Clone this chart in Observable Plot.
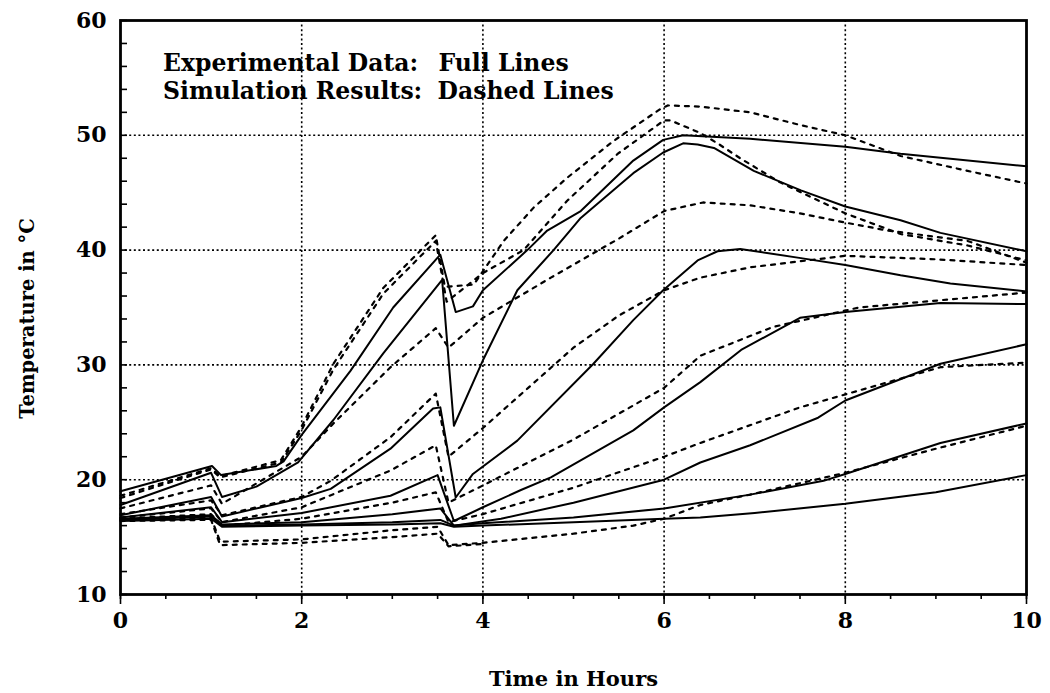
<!DOCTYPE html>
<html>
<head>
<meta charset="utf-8">
<script src="https://cdn.jsdelivr.net/npm/d3@7"></script>
<script src="https://cdn.jsdelivr.net/npm/@observablehq/plot@0.6"></script>
<style>
  html, body { margin: 0; padding: 0; background: #fff; }
</style>
</head>
<body>
<div id="chart"></div>
<script>
// Axis ticks
const timeTicks = [0, 2, 4, 6, 8, 10];
const timeMinor = d3.range(0, 10.01, 0.5);
const timeGrid = [2, 4, 6, 8];
const tempTicks = [10, 20, 30, 40, 50, 60];
const tempMinor = d3.range(10, 60.01, 2);
const tempGrid = [20, 30, 40, 50];

// Measured temperatures (full lines): hours / degrees C
const expA_t = [0, 1.01, 1.11, 1.72, 1.80, 2.0, 2.54, 3.01, 3.53, 3.70, 3.89, 4.0, 4.49, 4.71, 5.08, 5.66, 5.99, 6.21, 6.95, 8.0, 8.61, 10];
const expA_T = [19.0, 21.2, 20.4, 21.2, 21.6, 23.9, 29.5, 35.0, 39.6, 34.6, 35.1, 36.5, 40.0, 41.7, 43.4, 47.8, 49.6, 50.0, 49.7, 49.0, 48.4, 47.3];

const expB_t = [0, 1.0, 1.12, 1.5, 1.96, 2.35, 2.90, 3.55, 3.68, 4.0, 4.38, 4.78, 5.08, 5.66, 5.99, 6.21, 6.37, 6.55, 6.99, 7.51, 8.0, 8.61, 9.05, 10];
const expB_T = [17.8, 20.6, 18.5, 19.4, 21.5, 25.2, 31.0, 37.4, 24.7, 30.4, 36.5, 40.0, 42.8, 46.7, 48.5, 49.3, 49.2, 48.9, 46.9, 45.2, 43.8, 42.6, 41.5, 39.9];

const expC_t = [0, 1.0, 1.12, 2.0, 2.32, 2.98, 3.45, 3.53, 3.70, 3.89, 4.38, 5.22, 5.66, 5.99, 6.37, 6.59, 6.84, 7.51, 8.0, 8.61, 9.16, 10];
const expC_T = [16.9, 18.5, 16.8, 18.4, 19.2, 22.7, 26.2, 26.3, 18.45, 20.5, 23.4, 30.1, 33.9, 36.5, 39.1, 39.9, 40.1, 39.3, 38.7, 37.8, 37.1, 36.4];

const expD_t = [0, 1.0, 1.12, 2.0, 2.98, 3.50, 3.68, 4.0, 4.42, 4.75, 5.66, 6.0, 6.4, 6.85, 7.5, 8.0, 9.05, 10];
const expD_T = [16.7, 17.6, 16.3, 17.1, 18.6, 20.4, 16.4, 17.6, 19.1, 20.2, 24.3, 26.3, 28.5, 31.3, 34.1, 34.6, 35.4, 35.3];

const expE_t = [0, 1.0, 1.12, 2.0, 3.0, 3.53, 3.68, 4.2, 5.0, 6.0, 6.4, 6.95, 7.7, 8.0, 9.05, 10];
const expE_T = [16.6, 16.9, 16.1, 16.3, 17.0, 17.5, 16.0, 16.6, 18.0, 20.0, 21.5, 23.0, 25.4, 26.9, 30.1, 31.8];

const expF_t = [0, 1.0, 1.12, 2.0, 3.0, 3.53, 3.68, 4.0, 5.0, 6.0, 6.95, 7.76, 8.0, 9.05, 10];
const expF_T = [16.5, 16.8, 16.0, 16.1, 16.3, 16.5, 16.0, 16.2, 16.7, 17.5, 18.7, 19.9, 20.5, 23.2, 24.9];

const expG_t = [0, 1.0, 1.12, 2.0, 3.0, 3.53, 3.68, 4.0, 5.0, 6.0, 6.4, 7.0, 8.0, 9.0, 10];
const expG_T = [16.4, 16.6, 15.9, 16.0, 16.1, 16.2, 15.9, 16.0, 16.3, 16.6, 16.7, 17.1, 17.9, 18.9, 20.4];

// Simulated temperatures (dashed lines): hours / degrees C
const simA_t = [0, 1.0, 1.1, 1.77, 1.99, 2.35, 2.90, 3.48, 3.58, 3.9, 4.23, 4.56, 4.93, 5.44, 5.96, 6.04, 6.4, 6.95, 7.5, 8.0, 8.61, 9.35, 10];
const simA_T = [18.6, 21.0, 20.3, 21.7, 24.5, 30.1, 36.7, 41.3, 36.8, 37.0, 40.8, 43.7, 46.3, 49.5, 52.3, 52.6, 52.5, 52.0, 50.9, 50.0, 48.2, 46.9, 45.8];

const simB_t = [0, 1.0, 1.1, 1.77, 1.99, 2.35, 2.90, 3.48, 3.60, 4.0, 4.45, 4.93, 5.49, 6.0, 6.07, 6.4, 6.59, 6.84, 7.28, 8.0, 8.61, 9.35, 10];
const simB_T = [18.4, 20.9, 20.2, 21.5, 24.2, 29.6, 36.2, 40.8, 35.5, 38.0, 40.0, 44.3, 48.4, 51.3, 51.3, 50.2, 49.3, 48.0, 45.9, 43.2, 41.4, 40.4, 39.1];

const simC_t = [0, 1.0, 1.12, 2.0, 2.35, 2.98, 3.48, 3.62, 4.0, 4.75, 5.5, 6.0, 6.43, 6.95, 7.5, 8.0, 8.47, 9.35, 10];
const simC_T = [17.5, 19.5, 17.9, 22.0, 24.9, 29.8, 33.2, 31.5, 34.1, 37.6, 41.0, 43.4, 44.15, 43.9, 43.2, 42.4, 41.7, 40.8, 38.9];

const simD_t = [0, 1.0, 1.12, 2.0, 2.32, 2.98, 3.48, 3.62, 4.0, 4.5, 5.0, 5.5, 6.0, 6.4, 6.95, 8.0, 9.0, 10];
const simD_T = [17.0, 18.2, 16.9, 18.5, 19.9, 23.7, 27.5, 22.0, 24.5, 28.0, 31.5, 34.3, 36.5, 37.6, 38.5, 39.5, 39.2, 38.7];

const simE_t = [0, 1.0, 1.12, 2.0, 2.98, 3.48, 3.62, 4.0, 5.0, 6.0, 6.4, 7.2, 8.15, 10];
const simE_T = [16.7, 17.5, 16.3, 17.6, 20.8, 23.0, 18.0, 19.5, 23.5, 28.0, 30.8, 33.3, 35.0, 36.3];

const simF_t = [0, 1.0, 1.12, 2.0, 3.0, 3.48, 3.62, 4.0, 5.0, 6.0, 6.4, 7.5, 9.05, 10];
const simF_T = [16.6, 17.0, 16.0, 16.6, 18.0, 18.9, 16.3, 17.0, 19.3, 22.0, 23.2, 26.3, 29.8, 30.2];

const simG_t = [0, 1.0, 1.1, 2.0, 3.0, 3.5, 3.62, 4.0, 5.0, 5.66, 6.0, 6.4, 6.95, 8.0, 9.0, 10];
const simG_T = [16.5, 16.7, 14.6, 14.8, 15.6, 15.9, 14.3, 14.5, 15.3, 16.0, 16.6, 17.8, 18.7, 20.6, 22.7, 24.7];

const simH_t = [0, 1.0, 1.1, 2.0, 3.0, 3.5, 3.62, 4.0];
const simH_T = [16.4, 16.5, 14.3, 14.5, 15.0, 15.3, 14.2, 14.4];

const notes = ["Experimental Data:", "Full Lines", "Simulation Results:", "Dashed Lines"];
const noteX = [0.47, 3.51, 0.47, 3.50];
const noteY = [55.6, 55.6, 53.15, 53.15];

const xTitle = "Time in Hours";
const yTitle = "Temperature in °C";

// Flatten the series into long rows for the line marks
function rows(id, ts, Ts) {
  return ts.map((t, i) => ({id, t, T: Ts[i]}));
}
const measured = [
  rows("A", expA_t, expA_T), rows("B", expB_t, expB_T), rows("C", expC_t, expC_T),
  rows("D", expD_t, expD_T), rows("E", expE_t, expE_T), rows("F", expF_t, expF_T),
  rows("G", expG_t, expG_T)
].flat();
const simulated = [
  rows("A", simA_t, simA_T), rows("B", simB_t, simB_T), rows("C", simC_t, simC_T),
  rows("D", simD_t, simD_T), rows("E", simE_t, simE_T), rows("F", simF_t, simF_T),
  rows("G", simG_t, simG_T), rows("H", simH_t, simH_T)
].flat();

const font = "'DejaVu Serif', 'Liberation Serif', serif";

const chart = Plot.plot({
  width: 1050,
  height: 693,
  marginLeft: 120,
  marginRight: 24,
  marginTop: 20,
  marginBottom: 99,
  x: {domain: [0, 10]},
  y: {domain: [10, 60]},
  style: {fontFamily: font, fontWeight: "bold", fontSize: "21px", color: "#000", background: "#fff", overflow: "visible"},
  marks: [
    Plot.gridX(timeGrid, {stroke: "#000", strokeOpacity: 1, strokeWidth: 1.6, strokeDasharray: "2,2.6"}),
    Plot.gridY(tempGrid, {stroke: "#000", strokeOpacity: 1, strokeWidth: 1.6, strokeDasharray: "2,2.6"}),
    Plot.line(simulated, {x: "t", y: "T", z: "id", stroke: "#000", strokeWidth: 2.2, strokeDasharray: "4,6"}),
    Plot.line(measured, {x: "t", y: "T", z: "id", stroke: "#000", strokeWidth: 2}),
    Plot.axisX(timeMinor, {tickSize: 5, text: null, label: null, strokeWidth: 1.6}),
    Plot.axisX(timeTicks, {tickSize: 10, tickPadding: 8, label: null, strokeWidth: 1.6, fontSize: 22}),
    Plot.axisY(tempMinor, {tickSize: 7, dx: 7, text: null, label: null, strokeWidth: 1.6}),
    Plot.axisY(tempTicks, {tickSize: 0, tickPadding: 14, label: null, fontSize: 22}),
    Plot.frame({stroke: "#000", strokeWidth: 2.8}),
    Plot.text(notes, {x: (d, i) => noteX[i], y: (d, i) => noteY[i], text: d => d, textAnchor: "start", fontSize: 23.5, lineAnchor: "bottom"}),
    Plot.text([xTitle], {frameAnchor: "bottom", dy: 91, text: d => d, fontSize: 21}),
    Plot.text([yTitle], {frameAnchor: "left", textAnchor: "middle", dx: -93, dy: 11, rotate: -90, text: d => d, fontSize: 19.5})
  ]
});
document.getElementById("chart").appendChild(chart);
</script>
</body>
</html>
